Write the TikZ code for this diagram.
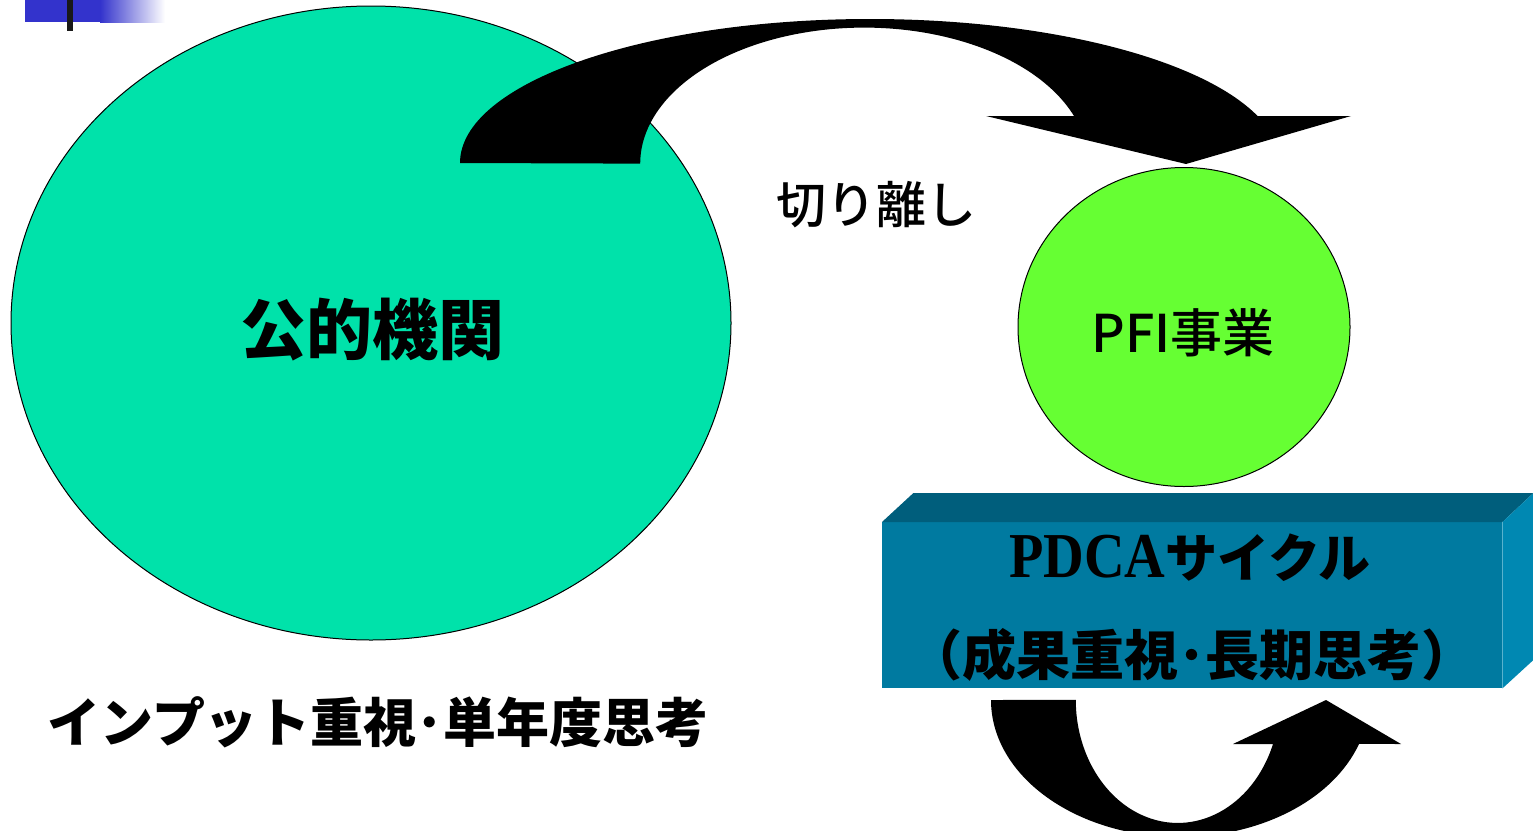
\documentclass[tikz,border=0pt]{standalone}
\usepackage{fontspec}
\setmainfont{Liberation Sans}
\newfontfamily\cjk{Noto Sans CJK JP}
\newfontfamily\cjkmed{Noto Sans CJK JP Medium}
\newfontfamily\pdcafont{Liberation Serif}
\usetikzlibrary{shapes.geometric}
\definecolor{pubgreen}{RGB}{0,226,170}
\definecolor{pfigreen}{RGB}{102,255,51}
\definecolor{boxfront}{RGB}{0,122,160}
\definecolor{boxtop}{RGB}{0,94,124}
\definecolor{boxside}{RGB}{0,136,178}
\definecolor{barblue}{RGB}{51,51,204}
\tikzset{
  blob/.style={ellipse, draw=black, line width=1pt, inner sep=0pt},
  lbl/.style={inner sep=0pt, text=black},
  jp/.style={font={\cjk\bfseries\fontsize{#1}{#1}\selectfont}},
  jpmed/.style={font={\cjkmed\fontsize{#1}{#1}\selectfont}},
  blockarrow/.style={fill=black, draw=none}
}
\begin{document}
\begin{tikzpicture}[x=1pt,y=-1pt]
\useasboundingbox (0,0) rectangle (1533,830);
\clip (0,0) rectangle (1533,830);
% top-left bar
\fill[barblue] (25,0) rectangle (100,22);
\shade[left color=barblue, right color=white] (100,0) rectangle (165,22);
\fill[black!90] (67,0) rectangle (73,31);
% public body
\node[blob, fill=pubgreen, minimum width=720pt, minimum height=634pt] (pub) at (371,323) {};
% top curved arrow
\fill[blockarrow] (460,163) arc[start angle=180, end angle=341, x radius=410, y radius=144]
  -- (1351,116) -- (1186,164) -- (986,116) -- (1074,116)
  arc[start angle=339.5, end angle=180, x radius=224, y radius=136] -- cycle;
% PFI ellipse
\node[blob, fill=pfigreen, minimum width=332pt, minimum height=319pt] (pfi) at (1184,327) {};
% 3D box
\node[fill=boxfront, minimum width=620pt, minimum height=166pt, inner sep=0pt, anchor=north west] (box) at (882,522) {};
\fill[boxtop] (box.north west) -- (box.north east) -- ++(31,-29) -- ++(-620,0) -- cycle;
\fill[boxside] (box.north east) -- ++(31,-29) -- ++(0,167) -- (box.south east) -- cycle;
% bottom curved arrow
\fill[blockarrow] (991,700) arc[start angle=180, end angle=18.7, x radius=189, y radius=137]
  -- (1401,744) -- (1326,700) -- (1233,744) -- (1273,744)
  arc[start angle=21, end angle=180, x radius=102, y radius=123] -- cycle;
% texts
\node[lbl, jp=66] (pubtxt) at (372,330) {公的機関};
\node[lbl, jpmed=50] (sep) at (876,205) {切り離し};
\node[lbl, jpmed=52] (pfitxt) at (1183,333) {PFI事業};
\node[lbl] (pdca) at (1190,558) {{\pdcafont\bfseries\fontsize{64}{64}\selectfont\scalebox{0.88}[1]{PDCA}}{\cjk\bfseries\fontsize{52}{52}\selectfont サイクル}};
\node[lbl, jp=54] (result) at (1192,655) {（成果重視･長期思考）};
\node[lbl, jp=53] (input) at (378,722) {インプット重視･単年度思考};
\end{tikzpicture}
\end{document}
